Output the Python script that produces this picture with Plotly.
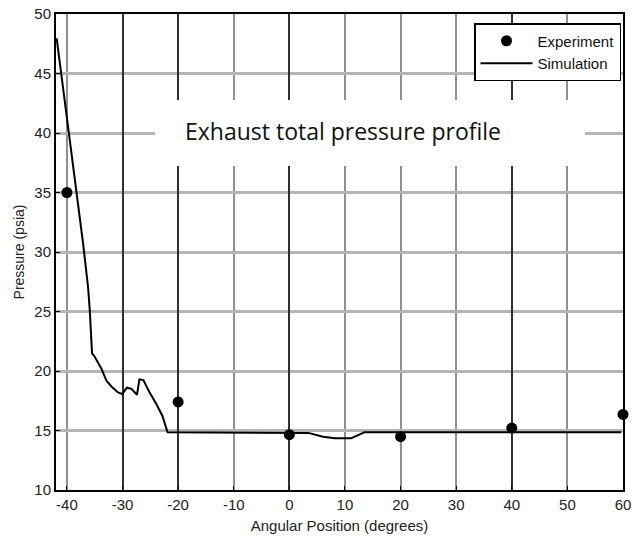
import plotly.graph_objects as go

# Data
sim_x = [-41.84, -37.80, -37.09, -36.20, -35.89, -35.48, -35.0, -33.8, -32.9, -32.0,
         -30.8, -30.05, -29.2, -28.4, -27.4, -26.96, -26.25, -25.2, -24.0, -22.8,
         -21.9, 3.4, 6.07, 8.2, 11.1, 13.5, 59.7]
sim_y = [47.96, 33.53, 30.73, 27.08, 25.13, 21.49, 21.2, 20.2, 19.2, 18.7,
         18.2, 18.07, 18.6, 18.5, 18.0, 19.3, 19.24, 18.26, 17.3, 16.2,
         14.85, 14.8, 14.48, 14.34, 14.34, 14.85, 14.85]

exp_x = [-40, -20, 0, 20, 40, 60]
exp_y = [35.0, 17.4, 14.65, 14.48, 15.2, 16.35]

x_ticks = [-40, -30, -20, -10, 0, 10, 20, 30, 40, 50, 60]
y_ticks = [10, 15, 20, 25, 30, 35, 40, 45, 50]
dark_grid_x = [-30, -20, 0, 40, 60]

title_text = "Exhaust total pressure profile"
x_title = "Angular Position (degrees)"
y_title = "Pressure (psia)"

FONT = "Liberation Sans Narrow, Arial Narrow, Liberation Sans, Arial, sans-serif"
XR = [-41.96, 60]
YR = [10, 50]
L, R, T, B = 56, 9, 14, 52
PW = 632 - L - R
PH = 542 - T - B


def px(xp):
    return (xp - L) / PW


def py(yp):
    return (542 - B - yp) / PH


fig = go.Figure()

fig.add_trace(go.Scatter(
    x=exp_x, y=exp_y, mode="markers", name="Experiment",
    marker=dict(color="black", size=11, symbol="circle"),
    cliponaxis=False,
))
fig.add_trace(go.Scatter(
    x=sim_x, y=sim_y, mode="lines", name="Simulation",
    line=dict(color="black", width=2),
))
# dummy trace for the overlay axis carrying darker vertical grid lines
fig.add_trace(go.Scatter(x=[None], y=[None], xaxis="x2", showlegend=False, hoverinfo="skip"))

fig.update_layout(
    width=632, height=542,
    margin=dict(l=L, r=R, t=T, b=B),
    paper_bgcolor="white", plot_bgcolor="white",
    font=dict(family=FONT, size=15, color="#222"),
    showlegend=True,
    legend=dict(
        x=px(474), y=py(23), xanchor="left", yanchor="top",
        bgcolor="white", bordercolor="black", borderwidth=1.5,
        font=dict(family=FONT, size=15, color="#111"),
        itemwidth=52, tracegroupgap=0,
    ),
    xaxis=dict(
        range=XR, tickvals=x_ticks, ticktext=[str(v) for v in x_ticks],
        automargin=False,
        showgrid=True, gridcolor="#8f8f8f", gridwidth=2,
        showline=True, linecolor="black", linewidth=2, mirror=True,
        ticks="inside", ticklen=4, tickcolor="black",
        zeroline=False,
        title=dict(text=x_title, font=dict(size=15), standoff=8),
    ),
    xaxis2=dict(
        range=XR, overlaying="x", tickvals=dark_grid_x, showticklabels=False,
        showgrid=True, gridcolor="#303030", gridwidth=1.6, zeroline=False,
        showline=False, ticks="", automargin=False,
    ),
    yaxis=dict(
        range=YR, tickvals=y_ticks, ticktext=[str(v) for v in y_ticks],
        showgrid=True, gridcolor="#b5b5b5", gridwidth=3, automargin=False,
        showline=True, linecolor="black", linewidth=2, mirror=True,
        ticks="inside", ticklen=4, tickcolor="black",
        zeroline=False,
        title=dict(text=y_title, font=dict(size=14), standoff=6),
    ),
    shapes=[dict(
        type="rect", xref="paper", yref="paper",
        x0=px(155), x1=px(585), y0=py(166), y1=py(100),
        fillcolor="white", line=dict(width=0), layer="above",
    )],
    annotations=[dict(
        text=title_text, xref="paper", yref="paper",
        x=px(343), y=py(131), xanchor="center", yanchor="middle",
        showarrow=False, font=dict(family="Open Sans, Lato, sans-serif", size=23, color="#111"),
    )],
)

fig.write_html("out.html")
